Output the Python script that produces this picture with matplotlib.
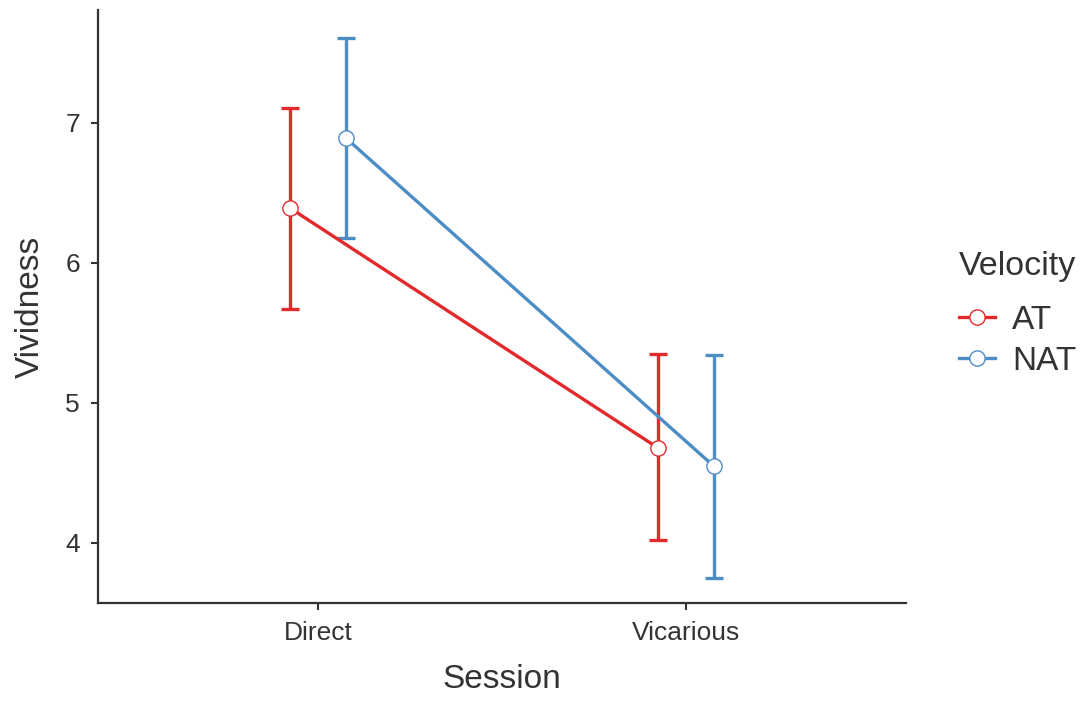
import matplotlib
matplotlib.use("Agg")
import matplotlib.pyplot as plt
from matplotlib.lines import Line2D
import numpy as np

plt.rcParams['font.family'] = ['Liberation Sans', 'DejaVu Sans']

sessions = ["Direct", "Vicarious"]
groups = ["AT", "NAT"]
colors = {"AT": "#E4292C", "NAT": "#4D8DC6"}

mean_vals = {"AT": [6.39, 4.68], "NAT": [6.89, 4.55]}
lower_vals = {"AT": [5.67, 4.02], "NAT": [6.18, 3.75]}
upper_vals = {"AT": [7.11, 5.35], "NAT": [7.61, 5.34]}

dodge = {"AT": -0.076, "NAT": 0.076}

fig = plt.figure(figsize=(10.82, 7.04), dpi=100)
ax = fig.add_axes([0.0906, 0.1435, 0.7467, 0.8423])

x = np.arange(1, len(sessions) + 1)
for g in groups:
    xs = x + dodge[g]
    m = np.array(mean_vals[g])
    lo = m - np.array(lower_vals[g])
    hi = np.array(upper_vals[g]) - m
    ax.errorbar(xs, m, yerr=[lo, hi], fmt='none', ecolor=colors[g],
                elinewidth=2.4, capsize=6.5, capthick=2.4, zorder=2)
    ax.plot(xs, m, color=colors[g], lw=2.4, zorder=3)
    ax.plot(xs, m, 'o', ms=11, mfc='white', mec=colors[g], mew=1.0, zorder=4)

ax.set_xlim(0.4, 2.6)
ax.set_ylim(3.571, 7.807)
ax.set_xticks(x)
ax.set_xticklabels(sessions)
ax.set_yticks([4, 5, 6, 7])
ax.tick_params(labelsize=19, colors='#333333', length=5, width=1.5, pad=8)
for lab in ax.get_xticklabels() + ax.get_yticklabels():
    lab.set_color('#333333')
for side in ['top', 'right']:
    ax.spines[side].set_visible(False)
for side in ['left', 'bottom']:
    ax.spines[side].set_color('#333333')
    ax.spines[side].set_linewidth(1.6)

ax.set_xlabel("Session", fontsize=24, color='#333333', labelpad=14)
ax.set_ylabel("Vividness", fontsize=24, color='#333333', labelpad=14)

handles = [Line2D([0], [0], color=colors[g], lw=2.4, marker='o', ms=11,
                  mfc='white', mec=colors[g], mew=1.0) for g in groups]
leg = fig.legend(handles, groups, loc='upper left', bbox_to_anchor=(0.886, 0.643),
                 frameon=False, fontsize=24, title="Velocity", title_fontsize=24.5,
                 handlelength=1.1, handletextpad=0.5, labelspacing=0.3,
                 alignment='left', borderaxespad=0, borderpad=0)
leg._legend_box.sep = 16
for t in leg.get_texts():
    t.set_color('#333333')
leg.get_title().set_color('#333333')

fig.savefig("out.png", dpi=100)
